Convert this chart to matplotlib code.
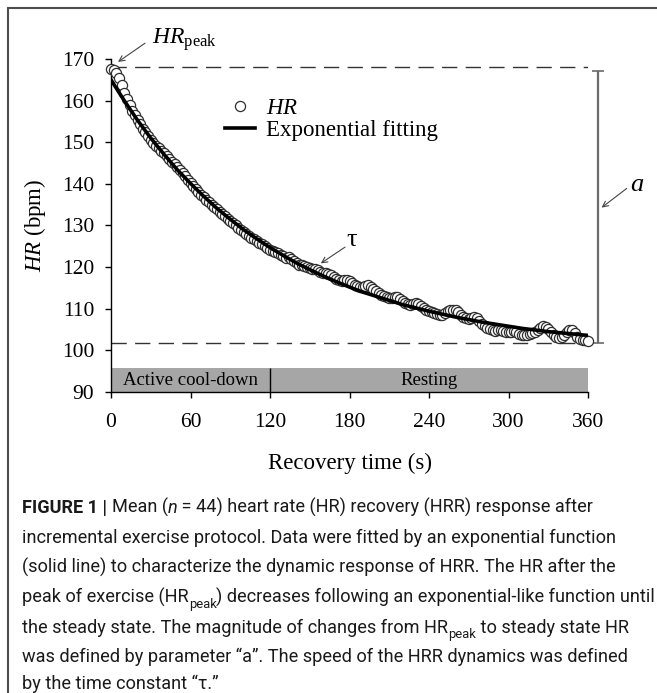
import matplotlib
matplotlib.use('Agg')
import matplotlib.pyplot as plt
from matplotlib import font_manager
from matplotlib.patches import Rectangle

# mean HR (bpm) every 2 s of recovery
time_hr = list(range(0, 361, 2))
hr = [167.6, 167.3, 166.6, 165.4, 163.8, 161.9, 160.3, 158.9, 157.6, 156.5,
      155.3, 154.3, 153.3, 152.4, 151.5, 150.6, 149.9, 149.2, 148.6, 148.0,
      147.4, 146.7, 146.0, 145.3, 144.7, 144.0, 143.4, 142.6, 141.9, 141.0,
      140.3, 139.5, 138.8, 138.0, 137.4, 136.9, 136.2, 135.6, 135.0, 134.5,
      133.9, 133.3, 132.7, 132.2, 131.6, 131.0, 130.5, 130.0, 129.5, 129.0,
      128.5, 128.0, 127.5, 127.1, 126.7, 126.3, 125.9, 125.5, 125.0, 124.6,
      124.2, 123.9, 123.6, 123.3, 122.9, 122.6, 122.3, 122.4, 122.0, 121.5,
      121.0, 120.6, 120.4, 120.3, 120.0, 119.8, 119.6, 119.5, 119.2, 118.9,
      118.7, 118.5, 118.3, 118.0, 117.6, 117.2, 116.9, 116.7, 116.8, 116.9,
      116.7, 116.3, 115.8, 115.4, 115.2, 115.3, 115.5, 115.6, 115.3, 114.8,
      114.2, 113.7, 113.3, 113.0, 112.8, 112.6, 112.7, 112.9, 112.8, 112.3,
      111.8, 111.4, 111.1, 111.0, 111.2, 111.5, 111.2, 110.6, 110.2, 109.8,
      109.5, 109.2, 108.9, 108.7, 108.6, 108.6, 108.9, 109.4, 109.7, 109.8,
      109.6, 109.1, 108.5, 108.0, 107.7, 107.6, 107.8, 108.0, 107.7, 107.0,
      106.3, 105.8, 105.4, 105.1, 104.9, 104.7, 104.8, 104.8, 104.6, 104.4,
      104.3, 104.5, 104.6, 104.3, 104.0, 103.8, 103.6, 103.7, 103.9, 104.1,
      104.4, 104.8, 105.3, 105.8, 105.7, 105.2, 104.4, 103.7, 103.2, 103.0,
      103.1, 103.6, 104.3, 104.8, 104.8, 104.1, 103.3, 102.7, 102.5, 102.6,
      102.2]

# exponential fitting curve read every 10 s
time_fit = list(range(0, 361, 10))
hr_fit = [165.0, 160.0, 155.3, 151.0, 147.1, 143.4, 140.1, 137.0, 134.1, 131.5,
          129.0, 126.8, 124.7, 122.8, 121.0, 119.4, 117.9, 116.5, 115.2, 114.0,
          113.0, 112.0, 111.0, 110.2, 109.4, 108.7, 108.0, 107.4, 106.8, 106.3,
          105.8, 105.3, 104.9, 104.5, 104.2, 103.9, 103.6]

hr_peak = 168.15
hr_steady = 101.7
a_top, a_bottom = 167.1, 101.8

phases = ['Active cool-down', 'Resting']
phase_start = [0, 120]
phase_end = [120, 360]

x_ticks = [0, 60, 120, 180, 240, 300, 360]
y_ticks = [90, 100, 110, 120, 130, 140, 150, 160, 170]

caption_lines = [
    [("FIGURE 1 | ", 'bold'), ("Mean (", ''), ("n", 'italic'),
     (" = 44) heart rate (HR) recovery (HRR) response after", '')],
    [("incremental exercise protocol. Data were fitted by an exponential function", '')],
    [("(solid line) to characterize the dynamic response of HRR. The HR after the", '')],
    [("peak of exercise (HR", ''), ("peak", 'sub'),
     (") decreases following an exponential-like function until", '')],
    [("the steady state. The magnitude of changes from HR", ''), ("peak", 'sub'),
     (" to steady state HR", '')],
    [("was defined by parameter \u201ca\u201d. The speed of the HRR dynamics was defined", '')],
    [("by the time constant \u201c\u03c4.\u201d", '')],
]

names = {f.name for f in font_manager.fontManager.ttflist}
cap_font = 'Liberation Sans'
for cand in ['Liberation Sans Narrow', 'Roboto']:
    if cand in names:
        cap_font = cand
        break

plt.rcParams['font.family'] = 'Liberation Serif'
plt.rcParams['mathtext.fontset'] = 'custom'
plt.rcParams['mathtext.rm'] = 'Liberation Serif'
plt.rcParams['mathtext.it'] = 'Liberation Serif:italic'

W, H = 657, 693
fig = plt.figure(figsize=(W / 100, H / 100), dpi=100)
ax = fig.add_axes([111 / W, 1 - 392 / H, 477 / W, 333 / H])

# outer frame
fig.patches.append(Rectangle((7.5 / W, -0.05), 1.2, 1 - 7.5 / H + 0.05,
                             transform=fig.transFigure, fill=False,
                             edgecolor='#4d4d4d', linewidth=1.5))

# phase band
for name, s, e in zip(phases, phase_start, phase_end):
    ax.barh(90, e - s, left=s, height=5.7, align='edge', color='#a6a6a6',
            linewidth=0, zorder=1)
    ax.text((s + e) / 2, 92.85, name, ha='center', va='center', fontsize=13.5, zorder=2)
ax.vlines(phase_end[0], 90, 95.7, color='black', linewidth=1, zorder=2)

# reference lines
ax.hlines([hr_peak, hr_steady], 0, 360, colors='#333333', linewidth=1,
          linestyles=(0, (11, 6)), zorder=2)
ax.errorbar([367.5], [(a_top + a_bottom) / 2], yerr=[(a_top - a_bottom) / 2],
            color='#6b6b6b', linewidth=1.6, capsize=4, capthick=1.2, clip_on=False)

ax.plot(time_hr, hr, 'o', markersize=7.3, markerfacecolor='white',
        markeredgecolor='#2e2e2e', markeredgewidth=0.9, clip_on=False,
        zorder=3, label='$HR$')
ax.plot(time_fit, hr_fit, color='black', linewidth=2.6, zorder=4,
        label='Exponential fitting')

arrow = dict(arrowstyle='->', color='#444444', linewidth=0.8, shrinkA=0, shrinkB=0)
ax.annotate('', xy=(5.3, 169.3), xytext=(25.7, 173.8), arrowprops=arrow,
            annotation_clip=False)
ax.text(31, 174.6, r'$HR_{\mathrm{peak}}$', fontsize=17, va='center', ha='left',
        clip_on=False)
ax.annotate('', xy=(158.3, 120.9), xytext=(176.6, 124.8), arrowprops=arrow)
ax.text(182, 126.4, '\u03c4', fontsize=19, va='center', ha='center')
ax.annotate('', xy=(370.3, 134.3), xytext=(389.2, 138.9), arrowprops=arrow,
            annotation_clip=False)
ax.text(391.5, 139.8, '$a$', fontsize=19, va='center', ha='left', clip_on=False)

ax.legend(loc='upper left', bbox_to_anchor=(0.239, 0.884), frameon=False,
          fontsize=16.5, borderpad=0, borderaxespad=0, labelspacing=0.05,
          handlelength=1.3, handletextpad=0.5)

ax.set_xlim(0, 360)
ax.set_ylim(90, 170)
ax.set_xticks(x_ticks)
ax.set_yticks(y_ticks)
ax.tick_params(labelsize=15.5, length=4, width=1, direction='out', pad=8)
ax.tick_params(axis='x', pad=11)
for side in ['top', 'right']:
    ax.spines[side].set_visible(False)
for side in ['left', 'bottom']:
    ax.spines[side].set_linewidth(1)
ax.set_xlabel('Recovery time (s)', fontsize=16.5, labelpad=15)
ax.set_ylabel('$HR$ (bpm)', fontsize=16.5, labelpad=10)

# caption laid out as runs of text
renderer = fig.canvas.get_renderer()


def props(style, size):
    p = dict(family=cap_font, fontsize=size, color='#1a1a1a')
    if style == 'bold':
        p['weight'] = 'bold'
    elif style == 'italic':
        p['style'] = 'italic'
    elif style == 'sub':
        p['fontsize'] = size * 0.72
    return p


def advance(text, p):
    t1 = fig.text(0, 0, text + '|', **p)
    t2 = fig.text(0, 0, '|', **p)
    w = t1.get_window_extent(renderer).width - t2.get_window_extent(renderer).width
    t1.remove()
    t2.remove()
    return w


def line_width(parts, size):
    return sum(advance(txt, props(st, size)) for txt, st in parts)


cap_size = 13.0
cap_size *= 630 / line_width(caption_lines[3], cap_size)

baselines = [513, 543, 573, 603, 633, 662, 689]
for parts, yb in zip(caption_lines, baselines):
    x = 22
    for txt, st in parts:
        p = props(st, cap_size)
        dy = cap_size * 100 / 72 * 0.25 if st == 'sub' else 0
        fig.text(x / W, 1 - (yb + dy) / H, txt, ha='left', va='baseline', **p)
        x += advance(txt, p)

fig.savefig('out.png', dpi=100)
